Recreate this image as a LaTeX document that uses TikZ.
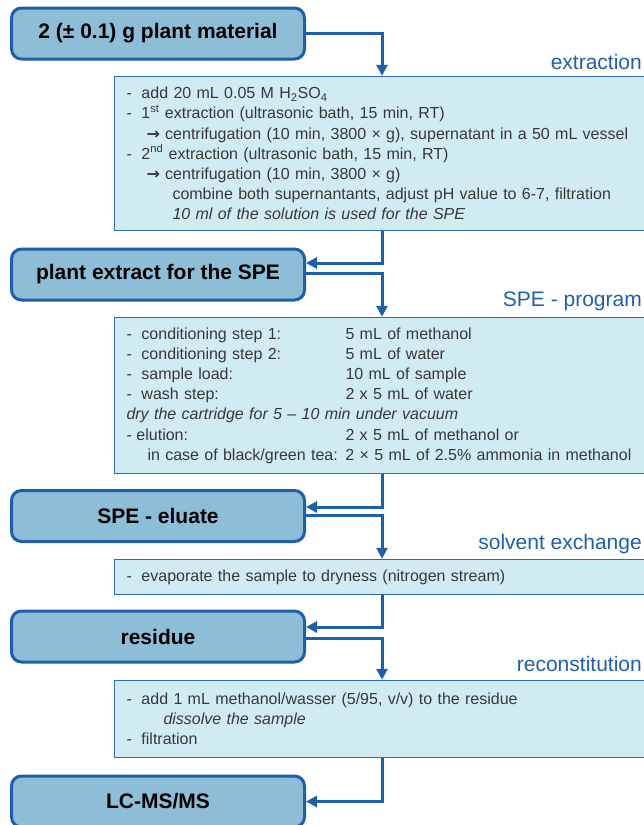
\documentclass[tikz,border=0pt]{standalone}
\usepackage{fontspec}
\setmainfont{Liberation Sans}
\newfontfamily\arrowfont{DejaVu Sans}
\usepackage{xcolor}
\usepackage{tikz}
\usetikzlibrary{arrows.meta}
\definecolor{flowblue}{HTML}{1F5FAA}
\definecolor{stagefill}{HTML}{8EBDD8}
\definecolor{workfill}{HTML}{D0ECF2}
\definecolor{workline}{HTML}{2E6BB0}
\newcommand{\lstep}[1]{\mbox{\makebox[15pt][l]{-}#1}} % dash in front of a step
\newcommand{\spcol}[2]{\mbox{\makebox[219pt][l]{#1}#2}} % two columns of the SPE program
\newcommand{\goto}{{\arrowfont\bfseries →}} % arrow in front of a sub-step
\tikzset{
stage/.style={draw=flowblue, line width=3pt, fill=stagefill, rounded corners=10pt,
  minimum width=293pt, minimum height=51pt, font=\fontsize{21}{24}\selectfont\bfseries}, % dark boxes on the left
workbox/.style={draw=workline, line width=1.5pt, fill=workfill, minimum width=535pt,
  text width=511pt, inner xsep=12pt, inner ysep=3pt, align=left, text=black!78,
  font=\fontsize{16}{20.2}\selectfont}, % light boxes with the steps
phase/.style={text=flowblue, anchor=east, inner sep=0pt, font=\fontsize{21}{24}\selectfont}, % labels at the right edge
flow/.style={draw=flowblue, line width=3pt, -{Triangle[length=11pt,width=11pt]}} % connectors
}

\begin{document}
\begin{tikzpicture}[x=1pt,y=-1pt]
    \useasboundingbox (0,0) rectangle (644,825);
    \node[stage] (material) at (158,33.5) {2 (± 0.1) g plant material};
    \node[phase] (lblextr) at (642,62) {extraction};
    \node[workbox, minimum height=154pt] (extr) at (382,153.5) {%
      \lstep{add 20 mL 0.05 M H\textsubscript{2}SO\textsubscript{4}}\\
      \lstep{1\textsuperscript{st} extraction (ultrasonic bath, 15 min, RT)}\\
      \mbox{\hspace*{20pt}\goto{} centrifugation (10 min, 3800 × g), supernatant in a 50 mL vessel}\\
      \lstep{2\textsuperscript{nd} extraction (ultrasonic bath, 15 min, RT)}\\
      \mbox{\hspace*{20pt}\goto{} centrifugation (10 min, 3800 × g)}\\
      \mbox{\hspace*{46pt}combine both supernantants, adjust pH value to 6-7, filtration}\\
      \mbox{\hspace*{46pt}\textit{10 ml of the solution is used for the SPE}}};
    \node[stage] (extract) at (158,274.5) {plant extract for the SPE};
    \node[phase] (lblspe) at (642,301) {SPE - program};
    \node[workbox, minimum height=156pt] (spe) at (382,395.5) {%
      \spcol{\lstep{conditioning step 1:}}{5 mL of methanol}\\
      \spcol{\lstep{conditioning step 2:}}{5 mL of water}\\
      \spcol{\lstep{sample load:}}{10 mL of sample}\\
      \spcol{\lstep{wash step:}}{2 x 5 mL of water}\\
      \mbox{\textit{dry the cartridge for 5 – 10 min under vacuum}}\\
      \spcol{\makebox[10pt][l]{-}elution:}{2 x 5 mL of methanol or}\\
      \spcol{\hspace*{21pt}in case of black/green tea:}{2 × 5 mL of 2.5\% ammonia in methanol}};
    \node[stage] (eluate) at (158,516) {SPE - eluate};
    \node[phase] (lblsolv) at (642,544) {solvent exchange};
    \node[workbox, minimum height=35pt] (solv) at (382,577) {%
      \lstep{evaporate the sample to dryness (nitrogen stream)}};
    \node[stage] (residue) at (158,636.5) {residue};
    \node[phase] (lblrecon) at (642,664) {reconstitution};
    \node[workbox, minimum height=77pt] (recon) at (382,719) {%
      \lstep{add 1 mL methanol/wasser (5/95, v/v) to the residue}\\
      \mbox{\hspace*{37pt}\textit{dissolve the sample}}\\
      \lstep{filtration}};
    \node[stage] (lcms) at (158,801.5) {LC-MS/MS};
    \draw[flow] (material.east) -| (extr.north);
    \draw[flow] (extr.south) |- ([yshift=11.5pt]extract.east);
    \draw[flow] ([yshift=1.5pt]extract.east) -| (spe.north);
    \draw[flow] (spe.south) |- ([yshift=9pt]eluate.east);
    \draw[flow] ([yshift=1pt]eluate.east) -| (solv.north);
    \draw[flow] (solv.south) |- ([yshift=9.5pt]residue.east);
    \draw[flow] ([yshift=-1.5pt]residue.east) -| (recon.north);
    \draw[flow] (recon.south) |- (lcms.east);
\end{tikzpicture}
\end{document}
